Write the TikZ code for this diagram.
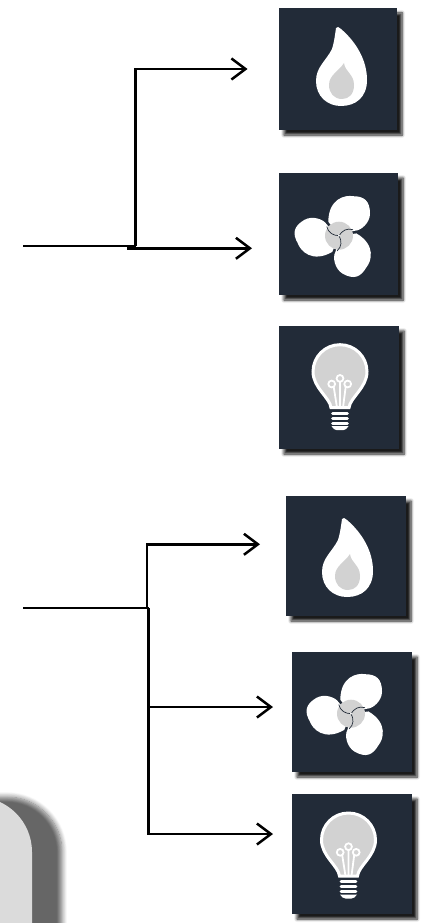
\documentclass[tikz,border=0pt]{standalone}
\usepackage{tikz}
\usetikzlibrary{arrows.meta,shadows.blur}
\definecolor{tiledark}{HTML}{222B38}
\definecolor{icongray}{HTML}{D2D2D2}
\tikzset{
    softshadow/.style={blur shadow={shadow xshift=5pt,shadow yshift=-5pt,shadow blur radius=3pt,shadow blur steps=6,shadow opacity=90}},
    tile/.style={fill=tiledark,inner sep=0pt,softshadow},
    conn/.style={line width=2.5pt,-{Straight Barb[length=14pt,width=21pt,line width=2.5pt]}},
    wire/.style={line width=2.5pt},
    flame/.pic={
        \fill[white] (-2,-41) .. controls (-1,-43) and (1,-42) .. (3,-40) .. controls (17,-28) and (29,-10) .. (29,11) .. controls (29,28) and (18,37) .. (3,37) .. controls (-11,37) and (-22,27) .. (-22,12) .. controls (-22,-2) and (-12,-8) .. (-6,-20) .. controls (-4,-26) and (-3,-34) .. (-2,-41) -- cycle;
        \fill[icongray] (6,-6) .. controls (7,3) and (16,5) .. (16,16) .. controls (16,25) and (11,30) .. (4,30) .. controls (-4,30) and (-9,24) .. (-9,16) .. controls (-9,6) and (1,2) .. (6,-6) -- cycle;
    },
    fan/.pic={
        \foreach \turn in {0,120,240} {
            \fill[white,rotate=\turn] (0,0) -- (-10.7,-14) .. controls (-10.5,-37) and (6,-41) .. (14,-39.5) .. controls (25,-39.5) and (31,-35) .. (31,-22) .. controls (31,-13) and (22,-5) .. (16,-5) .. controls (10,-4) and (5,-2) .. (0,0) -- cycle;
        }
        \fill[icongray] (0,0) circle (14pt);
        \foreach \turn in {0,120,240} {
            \draw[tiledark,line width=.7pt,rotate=\turn] (0,0) .. controls (3,-5) and (8,-8) .. (14,-6);
        }
        \fill[white] (0,0) circle (1pt);
    },
    bulb/.pic={
        \draw[white,fill=icongray,line width=3pt] (-9,36) .. controls (-10,26) and (-27,16) .. (-27,0) .. controls (-27,-15) and (-15,-27) .. (0,-27) .. controls (15,-27) and (27,-15) .. (27,0) .. controls (27,16) and (10,26) .. (9,36) -- cycle;
        \draw[white,line width=1.8pt] (-8.3,12.3) circle (3.4pt) (0,6.7) circle (3.4pt) (7.7,12.3) circle (3.4pt);
        \draw[white,line width=1.8pt] (-6.3,15) -- (-3,36) (0,10) -- (0,36) (5.7,15) -- (3,36);
        \draw[white,line width=3pt,line cap=round] (-7.3,41.7) -- (7.3,41.7) (-7.3,46.5) -- (7.3,46.5) (-7.3,51.3) -- (7.3,51.3);
        \fill[white] (-8.5,54.5) -- (8.5,54.5) .. controls (7,57) and (5,58.5) .. (3,58.5) -- (-3,58.5) .. controls (-5,58.5) and (-7,57) .. (-8.5,54.5) -- cycle;
    }
}
\begin{document}
\begin{tikzpicture}[x=1pt,y=-1pt]
    \clip (0,0) rectangle (423,923);
    % tiles
    \node[tile,minimum width=118pt,minimum height=122pt] (flameA) at (338,69) {};
    \node[tile,minimum width=119pt,minimum height=122pt] (fanA) at (338.5,234) {};
    \node[tile,minimum width=120pt,minimum height=123pt] (bulbA) at (339,387.5) {};
    \node[tile,minimum width=120pt,minimum height=120pt] (flameB) at (346,556) {};
    \node[tile,minimum width=120pt,minimum height=120pt] (fanB) at (352,712) {};
    \node[tile,minimum width=120pt,minimum height=120pt] (bulbB) at (352,854) {};
    % icons
    \pic at (338,69) {flame};
    \pic at (339,235.7) {fan};
    \pic at (340,371.7) {bulb};
    \pic at (344,560) {flame};
    \pic at (351,713.7) {fan};
    \pic at (348.5,840) {bulb};
    % grey panel in the corner
    \node[fill=black!14,inner sep=0pt,minimum width=132pt,minimum height=220pt,rounded corners=55pt,
        blur shadow={shadow xshift=30pt,shadow yshift=0pt,shadow blur radius=5pt,shadow blur steps=8,shadow opacity=60}] (panel) at (-34,907) {};
    % upper connectors
    \coordinate (inA) at (23,246);
    \coordinate (bendA) at (135.5,246);
    \coordinate (cornerA) at (135.5,69);
    \coordinate (toFlameA) at (247.5,69);
    \coordinate (startFanA) at (127,248.3);
    \coordinate (toFanA) at (252,248.3);
    \draw[wire] (inA) -- (bendA);
    \draw[conn] (bendA) -- (cornerA) -- (toFlameA);
    \draw[conn] (startFanA) -- (toFanA);
    % lower connectors
    \coordinate (inB) at (23,608);
    \coordinate (bendB) at (148.5,608);
    \coordinate (upB) at (147,608);
    \coordinate (cornerB) at (147,544.3);
    \coordinate (toFlameB) at (260,544.3);
    \coordinate (midB) at (148.5,707);
    \coordinate (toFanB) at (273,707);
    \coordinate (cornerC) at (148.5,834);
    \coordinate (toBulbB) at (273,834);
    \draw[wire] (inB) -- (bendB);
    \draw[conn] (upB) -- (cornerB) -- (toFlameB);
    \draw[conn] (midB) -- (toFanB);
    \draw[conn] (bendB) -- (cornerC) -- (toBulbB);
\end{tikzpicture}
\end{document}
